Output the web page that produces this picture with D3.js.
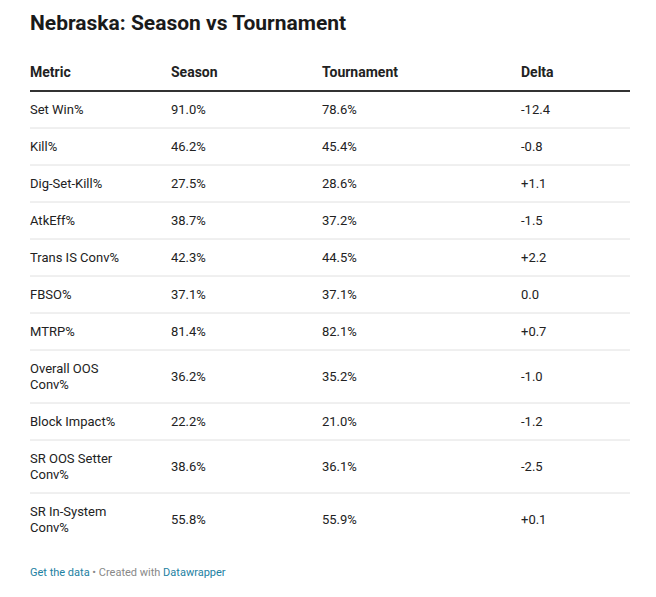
<!DOCTYPE html>
<html><head><meta charset="utf-8">
<script src="https://cdn.jsdelivr.net/npm/d3@7"></script>
<style>body{margin:0;background:#fff;font-family:Roboto,"Noto Sans",sans-serif;}</style>
</head><body><svg id="c" width="656" height="597"></svg>
<script>
const headers = ["Metric","Season","Tournament","Delta"];
const metrics = ["Set Win%","Kill%","Dig-Set-Kill%","AtkEff%","Trans IS Conv%","FBSO%","MTRP%","Overall OOS Conv%","Block Impact%","SR OOS Setter Conv%","SR In-System Conv%"];
const season = ["91.0%","46.2%","27.5%","38.7%","42.3%","37.1%","81.4%","36.2%","22.2%","38.6%","55.8%"];
const tournament = ["78.6%","45.4%","28.6%","37.2%","44.5%","37.1%","82.1%","35.2%","21.0%","36.1%","55.9%"];
const delta = ["-12.4","-0.8","+1.1","-1.5","+2.2","0.0","+0.7","-1.0","-1.2","-2.5","+0.1"];

const svg = d3.select("#c");
svg.append("text").attr("x",30).attr("y",30).attr("font-size",21).attr("font-weight",700).attr("fill","#1a1a1a").text("Nebraska: Season vs Tournament");
const colX = [30,171,322,521];
headers.forEach((h,i)=>svg.append("text").attr("x",colX[i]).attr("y",77).attr("font-size",14).attr("font-weight",700).attr("fill","#222").text(h));
svg.append("line").attr("x1",30).attr("x2",630).attr("y1",91).attr("y2",91).attr("stroke","#333").attr("stroke-width",2);

function wrap(str,maxW){
  const t = svg.append("text").attr("font-size",13);
  const words = str.split(" "); const lines=[]; let cur="";
  words.forEach(w=>{const test=cur?cur+" "+w:w; t.text(test); if(t.node().getComputedTextLength()>maxW && cur){lines.push(cur);cur=w;} else cur=test;});
  lines.push(cur); t.remove(); return lines;
}
let y = 91;
metrics.forEach((m,i)=>{
  const lines = wrap(m,100);
  const h = lines.length>1 ? 53 : 37;
  const cy = y + h/2;
  const g = svg.append("g");
  const t = g.append("text").attr("x",colX[0]).attr("font-size",13).attr("fill","#222");
  lines.forEach((l,k)=>t.append("tspan").attr("x",colX[0]).attr("y",cy+4.5+(k-(lines.length-1)/2)*16).text(l));
  [season[i],tournament[i],delta[i]].forEach((v,j)=>g.append("text").attr("x",colX[j+1]).attr("y",cy+4.5).attr("font-size",13).attr("fill","#222").text(v));
  y += h;
  if(i<metrics.length-1) svg.append("line").attr("x1",30).attr("x2",630).attr("y1",y).attr("y2",y).attr("stroke","#e0e0e0");
});
const f = svg.append("text").attr("x",30).attr("y",576).attr("font-size",11);
f.append("tspan").attr("fill","#1d81a2").text("Get the data");
f.append("tspan").attr("fill","#888").text(" • Created with ");
f.append("tspan").attr("fill","#1d81a2").text("Datawrapper");
</script></body></html>
